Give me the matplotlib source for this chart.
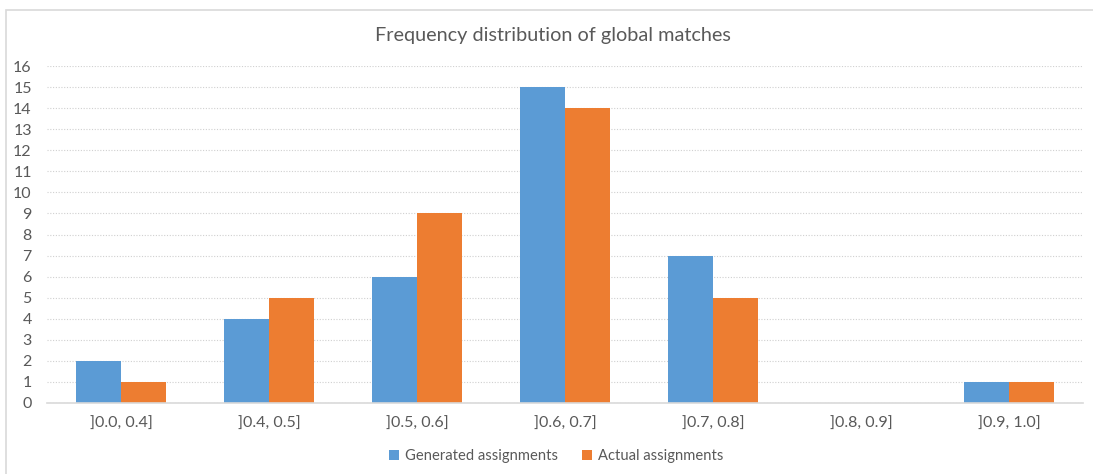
import matplotlib
matplotlib.use("Agg")
import matplotlib.pyplot as plt
import numpy as np
from matplotlib.patches import Rectangle

categories = ["]0.0, 0.4]", "]0.4, 0.5]", "]0.5, 0.6]", "]0.6, 0.7]", "]0.7, 0.8]", "]0.8, 0.9]", "]0.9, 1.0]"]
generated = [2, 4, 6, 15, 7, 0, 1]
actual = [1, 5, 9, 14, 5, 0, 1]
series_names = ["Generated assignments", "Actual assignments"]
colors = ["#5B9BD5", "#ED7D31"]
title = "Frequency distribution of global matches"

plt.rcParams['font.family'] = ['Lato', 'DejaVu Sans']
txt = "#595959"

W, H = 1093, 474
fig = plt.figure(figsize=(W/100, H/100), dpi=100)
fig.patches.append(Rectangle((6/W, -0.01), 1.0, (H-10)/H + 0.01, transform=fig.transFigure,
                             fill=False, edgecolor="#D9D9D9", linewidth=1.2))
ax = fig.add_axes([47/W, 71/H, 1036/W, 337/H])

x = np.arange(len(categories))
bw = 0.307
ax.bar(x - bw/2, generated, bw, color=colors[0], label=series_names[0], zorder=3)
ax.bar(x + bw/2, actual, bw, color=colors[1], label=series_names[1], zorder=3)

ax.set_xlim(-0.5, len(categories) - 0.5)
ax.set_ylim(0, 16)
ax.set_yticks(range(0, 17))
ax.set_xticks(x)
ax.set_xticklabels(categories)
ax.tick_params(axis='both', length=0, colors=txt, labelsize=11.5)
ax.tick_params(axis='x', pad=10)
ax.tick_params(axis='y', pad=11)
ax.grid(axis='y', color="#D0D0D0", linestyle=(0, (1, 1.5)), linewidth=0.8, zorder=0)
for s in ["top", "right", "left"]:
    ax.spines[s].set_visible(False)
ax.spines["bottom"].set_color("#D9D9D9")
ax.spines["bottom"].set_linewidth(1.2)
ax.spines["bottom"].set_zorder(4)

fig.text(553/W, 1 - 36/H, title, ha='center', va='center', fontsize=14.3, color=txt)
fig.legend(loc='center', bbox_to_anchor=(556/W, 1 - 456/H), ncol=2, frameon=False,
           fontsize=10.6, labelcolor=txt, handlelength=0.7, handleheight=0.7,
           handletextpad=0.4, columnspacing=1.6)

fig.savefig("out.png", dpi=100)
